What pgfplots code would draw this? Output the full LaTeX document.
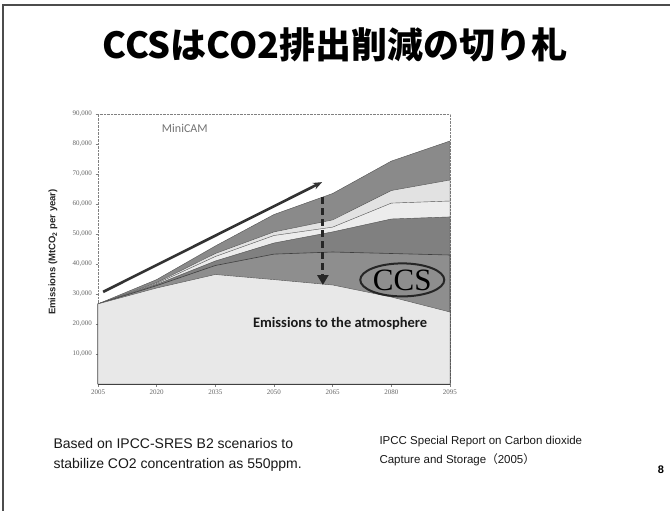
\documentclass[border=0pt]{standalone}
\usepackage{pgfplots}
\pgfplotsset{compat=1.18}
\usepackage{fontspec}
\setmainfont{Liberation Sans}
\newfontfamily\cjk{Noto Sans CJK JP}
\newfontfamily\carlito{Carlito}
\newfontfamily\serifs{Liberation Serif}
\usetikzlibrary{arrows.meta,shapes.geometric}
\definecolor{gTop}{HTML}{8A8A8A}
\definecolor{gLightA}{HTML}{E2E2E2}
\definecolor{gLightB}{HTML}{ECECEC}
\definecolor{gMid}{HTML}{808080}
\definecolor{gCCS}{HTML}{8E8E8E}
\definecolor{gAtm}{HTML}{E8E8E8}
\definecolor{edge}{HTML}{505050}
\pgfplotstableread{
year L1 L2 L3 L4 L5 L6
2005 26700 26700 26700 26700 26700 26700
2020 32000 32800 33200 33500 33800 34800
2035 36500 39500 41000 42500 43500 46000
2050 34800 43300 47000 49500 50700 56500
2065 33000 44000 50700 52300 54700 63500
2080 29000 43500 55000 60300 64500 74300
2095 24000 43000 55700 61000 68000 81000
}\data
\begin{document}
\begin{tikzpicture}[x=1pt,y=-1pt]
\useasboundingbox (0,0) rectangle (670,511);
\fill[white] (0,0) rectangle (670,511);
\draw[gray!60!black, line width=1.5pt] (3,511) -- (3,5) -- (670,5);
\node[font=\cjk\bfseries\fontsize{36}{36}\selectfont] at (335,45) {CCSはCO2排出削減の切り札};
\begin{axis}[
  at={(98pt,-384pt)}, anchor=south west,
  scale only axis, width=352pt, height=270pt,
  xmin=2005, xmax=2095, ymin=0, ymax=90000,
  xtick={2005,2020,2035,2050,2065,2080,2095},
  ytick={10000,20000,...,90000},
  scaled ticks=false,
  xtick pos=bottom, ytick pos=left,
  tick align=outside, major tick length=2.5pt,
  tick style={gray, thin},
  axis line style={gray, densely dotted},
  /pgf/number format/assume math mode=true,
  x tick label style={/pgf/number format/1000 sep={}, font=\serifs\fontsize{7}{7}\selectfont, text=gray!80!black},
  y tick label style={/pgf/number format/1000 sep={,}, font=\serifs\fontsize{7}{7}\selectfont, text=gray!80!black},
  clip=false,
]
\addplot[fill=gTop, draw=edge, thin] table[x=year,y=L6] {\data} \closedcycle;
\addplot[fill=gLightA, draw=edge, thin] table[x=year,y=L5] {\data} \closedcycle;
\addplot[fill=gLightB, draw=edge, thin] table[x=year,y=L4] {\data} \closedcycle;
\addplot[fill=gMid, draw=edge, thin] table[x=year,y=L3] {\data} \closedcycle;
\addplot[fill=gCCS, draw=edge!80!black, semithick] table[x=year,y=L2] {\data} \closedcycle;
\addplot[fill=gAtm, draw=edge, thin] table[x=year,y=L1] {\data} \closedcycle;
\draw[gray!50!black, line width=1pt] (axis cs:2005,0) -- (axis cs:2095,0);
\draw[black!80, line width=2.6pt, -{Stealth[length=9pt,width=7pt]}] (axis cs:2006.3,30700) -- (axis cs:2062.3,67300);
\draw[black!85, line width=3pt, dash pattern=on 7pt off 4pt, -{Triangle[length=10pt,width=11pt]}] (axis cs:2062.5,62300) -- (axis cs:2062.5,33000);
\node[draw=black!85, ellipse, line width=2pt, fill=gCCS, minimum width=84pt, minimum height=33pt, inner sep=0pt] at (axis cs:2082.8,34700) {\serifs\fontsize{31}{31}\selectfont CCS};
\node[font=\carlito\bfseries\fontsize{14.5}{14.5}\selectfont, text=black!90] at (axis cs:2066.9,20300) {Emissions to the atmosphere};
\node[font=\carlito\fontsize{12}{12}\selectfont, text=gray!90!black] at (axis cs:2027.2,85300) {MiniCAM};
\end{axis}
\node[rotate=90, font=\bfseries\fontsize{9.5}{9.5}\selectfont, text=black!85] at (53,252) {Emissions (MtCO\textsubscript{2} per year)};
\node[anchor=west, align=left, font=\fontsize{14}{20}\selectfont, text=black!90] at (50,455) {Based on IPCC-SRES B2 scenarios to\\stabilize CO2 concentration as 550ppm.};
\node[anchor=west, align=left, font=\fontsize{11.5}{19}\selectfont, text=black!90] at (376,451) {IPCC Special Report on Carbon dioxide\\Capture and Storage{\cjk （}2005{\cjk ）}};
\node[font=\bfseries\fontsize{11}{11}\selectfont] at (661,470) {8};
\end{tikzpicture}
\end{document}
